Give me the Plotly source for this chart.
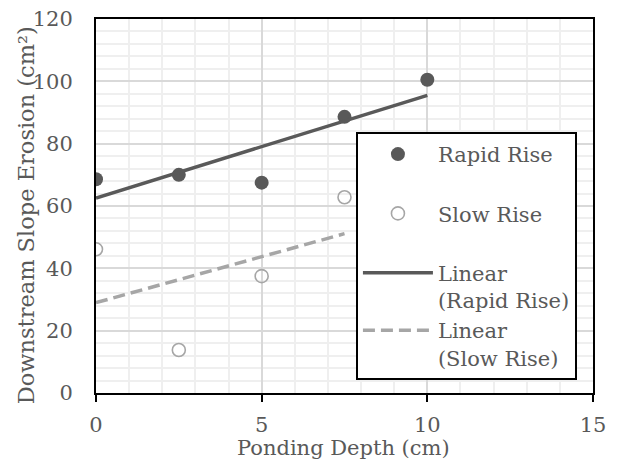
import numpy as np
import plotly.graph_objects as go

depth_rapid = [0, 2.5, 5, 7.5, 10]
erosion_rapid = [68.6, 70.0, 67.5, 88.6, 100.5]
depth_slow = [0, 2.5, 5, 7.5]
erosion_slow = [46.1, 13.8, 37.5, 62.8]

x_ticks = [0, 5, 10, 15]
y_ticks = [0, 20, 40, 60, 80, 100, 120]

DARK = "#595959"
LIGHT = "#a6a6a6"
FONT = "DejaVu Serif"

def fit(xs, ys):
    m, b = np.polyfit(xs, ys, 1)
    xx = np.array([min(xs), max(xs)])
    return xx, m * xx + b

fr_x, fr_y = fit(depth_rapid, erosion_rapid)
fs_x, fs_y = fit(depth_slow, erosion_slow)

fig = go.Figure()
fig.add_trace(go.Scatter(x=depth_rapid, y=erosion_rapid, mode="markers", name="Rapid Rise",
                         legendgroup="a",
                         marker=dict(color=DARK, size=14, line=dict(width=0))))
fig.add_trace(go.Scatter(x=depth_slow, y=erosion_slow, mode="markers", name="Slow Rise",
                         legendgroup="b",
                         marker=dict(symbol="circle-open", color=LIGHT, size=13, line=dict(width=1.6))))
fig.add_trace(go.Scatter(x=fr_x, y=fr_y, mode="lines", name="Linear<br>(Rapid Rise)",
                         legendgroup="c",
                         line=dict(color=DARK, width=3.5)))
fig.add_trace(go.Scatter(x=fs_x, y=fs_y, mode="lines", name="Linear<br>(Slow Rise)",
                         legendgroup="c",
                         line=dict(color=LIGHT, width=3.5, dash="12px,6px")))

fig.update_layout(
    width=609, height=456,
    margin=dict(l=88, r=24, t=11, b=71),
    paper_bgcolor="white", plot_bgcolor="white",
    font=dict(family=FONT, size=21, color=DARK),
    showlegend=True,
    legend=dict(x=0.523, y=0.698, xanchor="left", yanchor="top",
                bgcolor="white", bordercolor="black", borderwidth=2,
                itemwidth=70, tracegroupgap=29, valign="top",
                traceorder="grouped",
                font=dict(family=FONT, size=21, color=DARK)),
    xaxis=dict(range=[0, 15], tickvals=x_ticks, ticktext=[str(v) for v in x_ticks],
               automargin=False, ticklabeloverflow="allow",
               showline=True, linecolor="black", linewidth=2, mirror=True,
               ticks="outside", ticklen=7, tickwidth=2, tickcolor="black",
               ticklabelstandoff=5,
               showgrid=True, gridcolor="#d9d9d9", gridwidth=1.5,
               minor=dict(dtick=1, showgrid=True, gridcolor="#efefef", gridwidth=1.5),
               zeroline=False),
    yaxis=dict(range=[0, 120], tickvals=y_ticks, ticktext=[str(v) for v in y_ticks],
               automargin=False, ticklabeloverflow="allow",
               showline=True, linecolor="black", linewidth=2, mirror=True,
               ticks="", ticklabelstandoff=17,
               showgrid=True, gridcolor="#d9d9d9", gridwidth=1.5,
               minor=dict(dtick=4, showgrid=True, gridcolor="#efefef", gridwidth=1.5),
               zeroline=False),
    annotations=[
        dict(text="Downstream Slope Erosion (cm²)", textangle=-90,
             xref="paper", yref="paper", x=-0.141, y=0.475,
             xanchor="center", yanchor="middle", showarrow=False,
             font=dict(family=FONT, size=22.5, color=DARK)),
        dict(text="Ponding Depth (cm)",
             xref="paper", yref="paper", x=0.497, y=-0.147,
             xanchor="center", yanchor="middle", showarrow=False,
             font=dict(family=FONT, size=21, color=DARK)),
    ],
)

fig.write_html("out.html")
